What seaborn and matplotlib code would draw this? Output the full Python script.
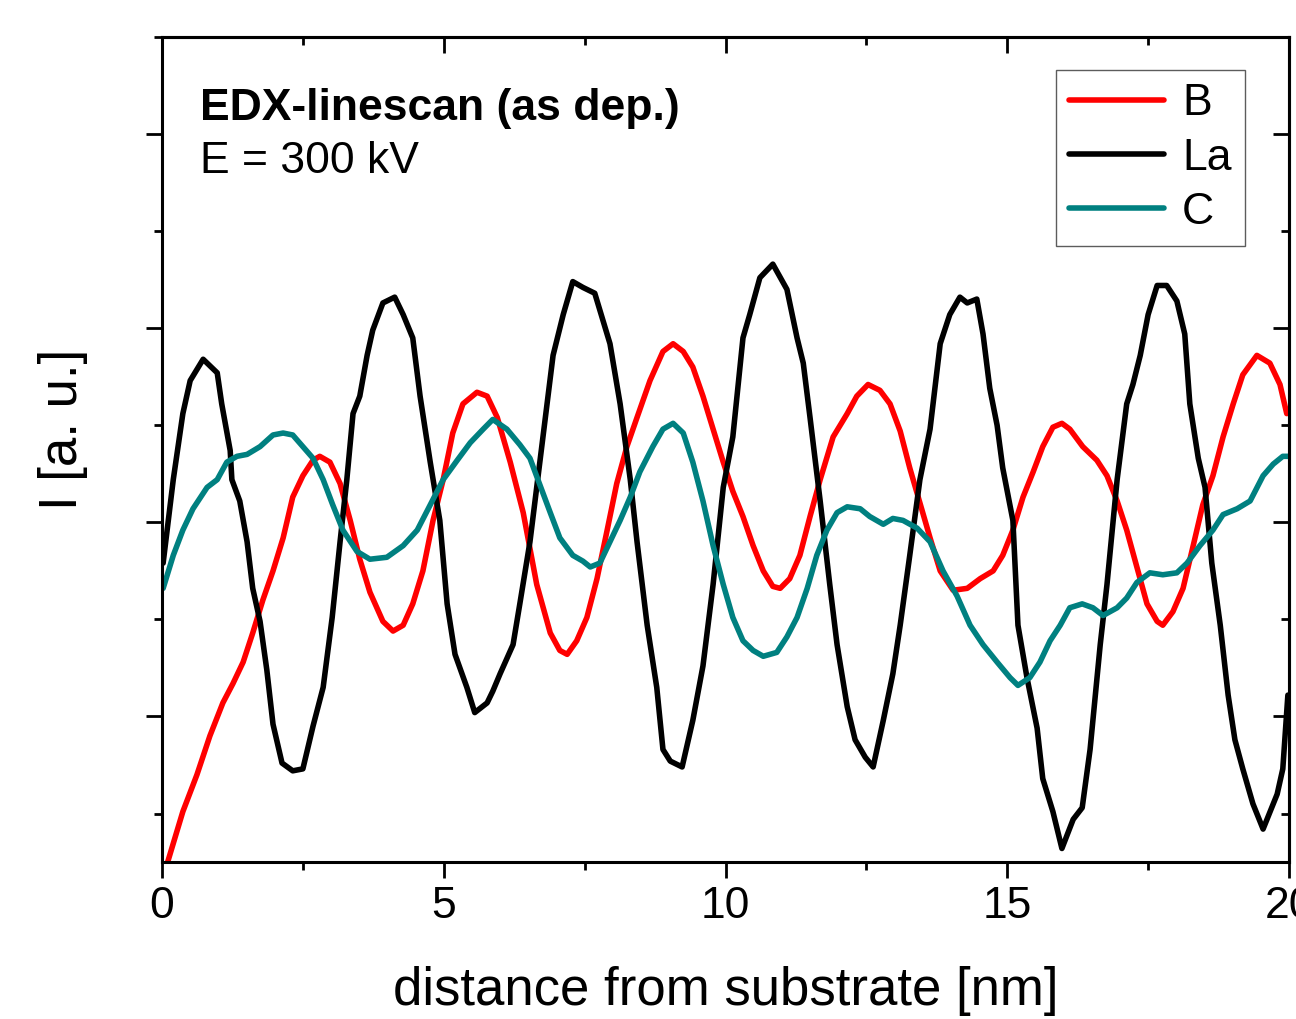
import numpy as np
import pandas as pd
import seaborn as sns
import matplotlib.pyplot as plt
from matplotlib.ticker import MultipleLocator

# EDX linescan, values (distance in nm, intensity in a.u.)
x_B = [0.09, 0.37, 0.62, 0.85, 1.08, 1.26, 1.44, 1.61, 1.79, 1.97, 2.15, 2.32, 2.50, 2.68, 2.80, 2.98,
       3.16, 3.34, 3.51, 3.69, 3.92, 4.10, 4.28, 4.45, 4.63, 4.81, 4.99, 5.16, 5.34, 5.59, 5.77, 5.95,
       6.18, 6.41, 6.65, 6.89, 7.06, 7.19, 7.36, 7.54, 7.72, 7.90, 8.07, 8.25, 8.43, 8.66, 8.89, 9.07,
       9.25, 9.42, 9.60, 9.78, 9.96, 10.13, 10.31, 10.49, 10.67, 10.84, 10.97, 11.14, 11.32, 11.50,
       11.68, 11.91, 12.16, 12.33, 12.53, 12.74, 12.92, 13.10, 13.27, 13.45, 13.63, 13.81, 14.04,
       14.29, 14.52, 14.75, 14.92, 15.10, 15.28, 15.46, 15.63, 15.81, 15.97, 16.11, 16.34, 16.59,
       16.77, 16.95, 17.12, 17.30, 17.48, 17.66, 17.76, 17.94, 18.12, 18.30, 18.47, 18.65, 18.83,
       19.01, 19.18, 19.43, 19.66, 19.84, 19.96]
y_B = [0.24, 0.51, 0.70, 0.90, 1.07, 1.17, 1.28, 1.43, 1.60, 1.75, 1.92, 2.13, 2.24, 2.32, 2.34, 2.31,
       2.20, 2.01, 1.81, 1.64, 1.49, 1.44, 1.47, 1.58, 1.75, 2.01, 2.22, 2.46, 2.61, 2.67, 2.65, 2.54,
       2.31, 2.05, 1.68, 1.43, 1.34, 1.32, 1.39, 1.51, 1.71, 1.96, 2.20, 2.39, 2.54, 2.73, 2.88, 2.92,
       2.88, 2.80, 2.65, 2.48, 2.31, 2.16, 2.03, 1.88, 1.75, 1.67, 1.66, 1.71, 1.83, 2.03,
       2.22, 2.44, 2.56, 2.65, 2.71, 2.68, 2.61, 2.47, 2.28, 2.10, 1.92, 1.75, 1.65,
       1.66, 1.71, 1.75, 1.83, 1.96, 2.13, 2.26, 2.39, 2.49, 2.51, 2.48, 2.39, 2.32,
       2.24, 2.11, 1.96, 1.77, 1.58, 1.49, 1.47, 1.54, 1.66, 1.88, 2.09, 2.24, 2.44,
       2.61, 2.76, 2.86, 2.82, 2.71, 2.56]

x_La = [0.02, 0.20, 0.37, 0.50, 0.73, 0.98, 1.06, 1.21, 1.24, 1.38, 1.51, 1.61, 1.74, 1.86, 1.97, 2.13,
        2.32, 2.50, 2.68, 2.86, 3.02, 3.16, 3.28, 3.39, 3.51, 3.64, 3.74, 3.92, 4.13, 4.28, 4.45, 4.58,
        4.76, 4.93, 5.06, 5.20, 5.41, 5.55, 5.77, 5.87, 6.00, 6.23, 6.35, 6.53, 6.71, 6.94, 7.12, 7.29,
        7.47, 7.68, 7.95, 8.13, 8.31, 8.43, 8.61, 8.78, 8.89, 9.02, 9.23, 9.42, 9.60, 9.78, 9.96,
        10.13, 10.31, 10.43, 10.61, 10.84, 11.09, 11.27, 11.38, 11.50, 11.68, 11.85, 11.98, 12.16,
        12.30, 12.48, 12.62, 12.80, 12.97, 13.10, 13.27, 13.45, 13.63, 13.81, 13.98, 14.16, 14.29,
        14.46, 14.57, 14.69, 14.82, 14.92, 15.10, 15.19, 15.35, 15.53, 15.63, 15.81, 15.97, 16.17,
        16.33, 16.47, 16.65, 16.77, 16.95, 17.12, 17.23, 17.36, 17.50, 17.66, 17.83, 18.01, 18.15,
        18.24, 18.39, 18.51, 18.63, 18.78, 18.92, 19.04, 19.18, 19.36, 19.54, 19.79, 19.89, 19.98]
y_La = [1.79, 2.22, 2.56, 2.73, 2.84, 2.77, 2.61, 2.37, 2.22, 2.11, 1.90, 1.66, 1.49, 1.24, 0.96, 0.76,
        0.72, 0.73, 0.95, 1.15, 1.51, 1.90, 2.22, 2.56, 2.65, 2.86, 2.99, 3.13, 3.16, 3.07, 2.95, 2.65,
        2.31, 2.01, 1.58, 1.32, 1.15, 1.02, 1.07, 1.13, 1.22, 1.37, 1.58, 1.90, 2.32, 2.86, 3.07, 3.24,
        3.21, 3.18, 2.92, 2.61, 2.22, 1.90, 1.47, 1.15, 0.83, 0.77, 0.74, 0.98, 1.26, 1.68, 2.18,
        2.44, 2.95, 3.07, 3.26, 3.33, 3.20, 2.95, 2.82, 2.54, 2.11, 1.68, 1.37, 1.05,
        0.88, 0.79, 0.74, 0.98, 1.22, 1.47, 1.83, 2.22, 2.48, 2.92, 3.07, 3.16, 3.13,
        3.15, 2.97, 2.69, 2.50, 2.28, 2.01, 1.47, 1.20, 0.94, 0.68, 0.51, 0.32, 0.47,
        0.53, 0.83, 1.37, 1.68, 2.22, 2.61, 2.71, 2.86, 3.07, 3.22, 3.22, 3.14, 2.97,
        2.61, 2.33, 2.18, 1.79, 1.47, 1.11, 0.88, 0.73, 0.55, 0.42, 0.60, 0.73, 1.11]

x_C = [0.02, 0.20, 0.37, 0.55, 0.80, 0.98, 1.15, 1.33, 1.51, 1.74, 1.97, 2.15, 2.32, 2.50, 2.68, 2.86,
       3.03, 3.21, 3.46, 3.69, 3.99, 4.28, 4.53, 4.76, 4.99, 5.24, 5.47, 5.70, 5.87, 6.12, 6.35, 6.53,
       6.71, 6.89, 7.06, 7.29, 7.47, 7.60, 7.77, 7.95, 8.13, 8.31, 8.48, 8.71, 8.89, 9.07, 9.25, 9.42,
       9.60, 9.78, 9.96, 10.13, 10.31, 10.49, 10.67, 10.91, 11.09, 11.27, 11.45, 11.62, 11.80, 11.98,
       12.16, 12.39, 12.56, 12.80, 12.97, 13.15, 13.40, 13.63, 13.86, 14.11, 14.34, 14.57, 14.82,
       15.05, 15.19, 15.40, 15.58, 15.76, 15.94, 16.11, 16.33, 16.52, 16.70, 16.95, 17.12, 17.30,
       17.53, 17.76, 18.01, 18.19, 18.42, 18.65, 18.83, 19.08, 19.31, 19.54, 19.72, 19.89, 19.98]
y_C = [1.66, 1.83, 1.96, 2.07, 2.18, 2.22, 2.31, 2.34, 2.35, 2.39, 2.45, 2.46, 2.45, 2.39, 2.33, 2.22,
       2.09, 1.96, 1.85, 1.81, 1.82, 1.88, 1.96, 2.09, 2.22, 2.32, 2.41, 2.48, 2.53, 2.48, 2.40, 2.33,
       2.19, 2.05, 1.92, 1.83, 1.80, 1.77, 1.79, 1.90, 2.01, 2.13, 2.26, 2.39, 2.48, 2.51, 2.46, 2.31,
       2.11, 1.88, 1.68, 1.51, 1.39, 1.34, 1.31, 1.33, 1.41, 1.51, 1.66, 1.83, 1.96, 2.05,
       2.08, 2.07, 2.03, 1.99, 2.02, 2.01, 1.97, 1.90, 1.75, 1.62, 1.47, 1.37, 1.28,
       1.20, 1.16, 1.20, 1.28, 1.39, 1.47, 1.56, 1.58, 1.56, 1.52, 1.56, 1.61, 1.69,
       1.74, 1.73, 1.74, 1.79, 1.88, 1.96, 2.04, 2.07, 2.11, 2.24, 2.30, 2.34, 2.34]

series = ["B", "La", "C"]
colors = ["#ff0000", "#000000", "#008080"]

df = pd.concat([
    pd.DataFrame({"x": x_B, "y": y_B, "elem": "B"}),
    pd.DataFrame({"x": x_La, "y": y_La, "elem": "La"}),
    pd.DataFrame({"x": x_C, "y": y_C, "elem": "C"}),
], ignore_index=True)

sns.set_style("ticks", rc={"text.color": "black", "axes.labelcolor": "black",
                           "xtick.color": "black", "ytick.color": "black",
                           "axes.edgecolor": "black"})
plt.rcParams["font.family"] = ["Liberation Sans", "DejaVu Sans"]

fig = plt.figure(figsize=(12.96, 10.19), dpi=100)
ax = fig.add_axes([0.125, 0.154, 0.8696, 0.8097])

sns.lineplot(data=df, x="x", y="y", hue="elem", hue_order=series,
             palette=dict(zip(series, colors)), sort=False, estimator=None,
             linewidth=4.0, ax=ax)
for ln in ax.get_lines():
    ln.set_solid_joinstyle("round")

ax.set_xlim(0, 20)
ax.set_ylim(0.25, 4.5)
ax.xaxis.set_major_locator(MultipleLocator(5))
ax.xaxis.set_minor_locator(MultipleLocator(2.5))
ax.yaxis.set_major_locator(MultipleLocator(1))
ax.yaxis.set_minor_locator(MultipleLocator(0.5))
ax.set_yticklabels([])

for s in ax.spines.values():
    s.set_linewidth(2.2)
    s.set_color("black")

ax.tick_params(which="both", direction="out", width=2.0, colors="black",
               bottom=True, left=True, top=False, right=False)
ax.tick_params(which="major", length=11.5, labelsize=32, pad=6)
ax.tick_params(which="minor", length=5.8)

# inward ticks on top and right
axt = ax.secondary_xaxis("top")
axt.xaxis.set_major_locator(MultipleLocator(5))
axt.xaxis.set_minor_locator(MultipleLocator(2.5))
axt.tick_params(which="both", direction="in", width=2.0, labeltop=False)
axt.tick_params(which="major", length=11.5)
axt.tick_params(which="minor", length=5.8)
axt.spines["top"].set_linewidth(2.2)

axr = ax.secondary_yaxis("right")
axr.yaxis.set_major_locator(MultipleLocator(1))
axr.yaxis.set_minor_locator(MultipleLocator(0.5))
axr.tick_params(which="both", direction="in", width=2.0, labelright=False)
axr.tick_params(which="major", length=11.5)
axr.tick_params(which="minor", length=5.8)
axr.spines["right"].set_linewidth(2.2)

ax.set_xlabel("distance from substrate [nm]", fontsize=38, labelpad=28)
ax.set_ylabel("I [a. u.]", fontsize=38)
ax.yaxis.set_label_coords(-0.066, 0.525)

ax.text(0.034, 0.899, "EDX-linescan (as dep.)", transform=ax.transAxes,
        fontsize=32, fontweight="bold", va="baseline")
ax.text(0.034, 0.835, "E = 300 kV", transform=ax.transAxes,
        fontsize=32, va="baseline")

leg = ax.legend(title=None, loc="upper right", bbox_to_anchor=(0.961, 0.960),
                fontsize=32, frameon=True, fancybox=False, handlelength=2.15,
                handletextpad=0.4, borderpad=0.3, labelspacing=0.3,
                borderaxespad=0)
leg.get_frame().set_edgecolor("#333333")
leg.get_frame().set_linewidth(1.0)
for line in leg.get_lines():
    line.set_linewidth(4.0)

fig.savefig("out.png", dpi=100)
